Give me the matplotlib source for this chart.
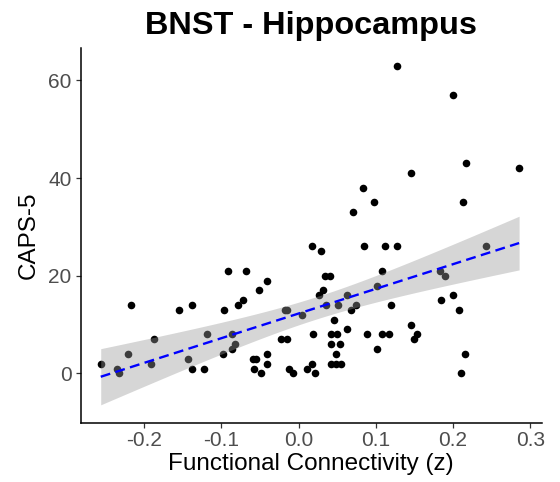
import numpy as np
import matplotlib.pyplot as plt

# functional connectivity (z) and CAPS-5 scores
fc = [-0.256, -0.2347, -0.232, -0.2212, -0.2173, -0.191, -0.187, -0.1545,
      -0.1436, -0.1376, -0.1384, -0.1229, -0.119, -0.0966, -0.0979, -0.0919,
      -0.0863, -0.0867, -0.0824, -0.078, -0.0716, -0.0686, -0.0595, -0.0556,
      -0.0578, -0.051, -0.049, -0.0414, -0.0414, -0.0414, -0.0225, -0.0151,
      -0.0177, -0.0147, -0.012, -0.0078, 0.0039, 0.0111, 0.0168, 0.018,
      0.0181, 0.021, 0.0263, 0.0288, 0.0318, 0.034, 0.0405, 0.035,
      0.0418, 0.0426, 0.0495, 0.0534, 0.046, 0.049, 0.0418, 0.0479,
      0.0547, 0.0508, 0.063, 0.063, 0.0673, 0.0707, 0.074, 0.0836,
      0.0845, 0.0888, 0.0978, 0.1017, 0.1017, 0.108, 0.108, 0.1125,
      0.117, 0.12, 0.1268, 0.1276, 0.146, 0.146, 0.1496, 0.1535,
      0.1828, 0.1837, 0.189, 0.1996, 0.2, 0.2078, 0.2096, 0.213,
      0.216, 0.2173, 0.243, 0.2854]
caps = [2, 1, 0, 4, 14, 2, 7, 13,
        3, 14, 1, 1, 8, 13, 4, 21,
        8, 5, 6, 14, 15, 21, 3, 3,
        1, 17, 0, 19, 4, 2, 7, 7,
        13, 13, 1, 0, 12, 1, 2, 26,
        8, 0, 16, 25, 17, 20, 20, 14,
        6, 8, 8, 6, 11, 4, 2, 2,
        2, 14, 16, 9, 13, 33, 14, 38,
        26, 8, 35, 18, 5, 21, 8, 26,
        8, 14, 63, 26, 41, 10, 7, 8,
        21, 15, 20, 57, 16, 13, 0, 35,
        4, 43, 26, 42]

x_ticks = [-0.2, -0.1, 0.0, 0.1, 0.2, 0.3]
y_ticks = [0, 20, 40, 60]

plt.rcParams['font.family'] = ['Liberation Sans', 'DejaVu Sans']

x = np.array(fc)
y = np.array(caps)

# linear fit with 95% confidence band (like geom_smooth(method="lm"))
n = len(x)
b, a = np.polyfit(x, y, 1)
xs = np.linspace(x.min(), x.max(), 100)
ys = a + b * xs
resid = y - (a + b * x)
s = np.sqrt(np.sum(resid ** 2) / (n - 2))
se = s * np.sqrt(1 / n + (xs - x.mean()) ** 2 / np.sum((x - x.mean()) ** 2))
t = 1.987

fig = plt.figure(figsize=(5.6, 4.82), dpi=100)
ax = fig.add_axes([0.144, 0.122, 0.823, 0.778])

ax.scatter(x, y, s=30, color='black', linewidths=0, zorder=2)
ax.fill_between(xs, ys - t * se, ys + t * se, color='#999999', alpha=0.4,
                linewidth=0, zorder=3)
ax.plot(xs, ys, color='blue', lw=1.7, linestyle=(0, (4.2, 2.3)), zorder=4)

ax.set_xlim(-0.282, 0.3144)
ax.set_ylim(-10.2, 66.6)
ax.set_xticks(x_ticks)
ax.set_xticklabels([f"{v:.1f}" for v in x_ticks])
ax.set_yticks(y_ticks)

for side in ['top', 'right']:
    ax.spines[side].set_visible(False)
for side in ['left', 'bottom']:
    ax.spines[side].set_linewidth(1.1)
    ax.spines[side].set_color('black')

ax.tick_params(axis='both', length=3.5, width=0.9, color='#333333',
               labelcolor='#4d4d4d', labelsize=15)
ax.tick_params(axis='x', pad=2)
ax.tick_params(axis='y', pad=3)

ax.set_xlabel("Functional Connectivity (z)", fontsize=17.5, labelpad=2)
ax.set_ylabel("CAPS-5", fontsize=17.5, labelpad=6)
ax.set_title("BNST - Hippocampus", fontsize=23.4, fontweight='bold', pad=10)

plt.savefig("out.png", dpi=100)
